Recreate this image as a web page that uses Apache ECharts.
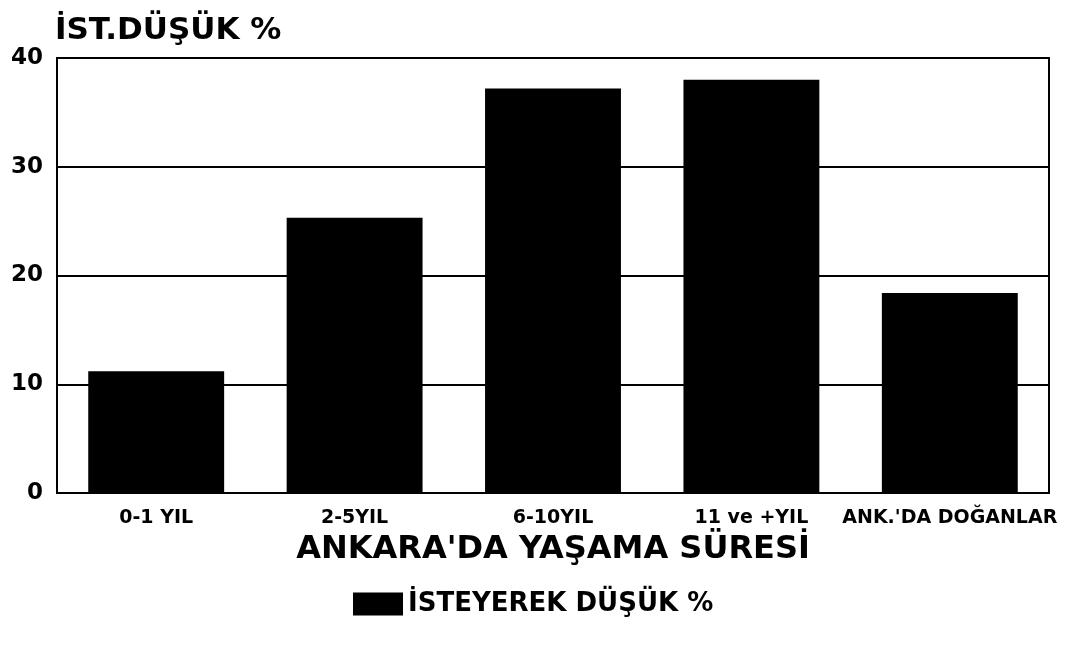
<!DOCTYPE html>
<html><head><meta charset="utf-8">
<script src="https://cdn.jsdelivr.net/npm/echarts@6/dist/echarts.min.js"></script>
<style>html,body{margin:0;padding:0;background:#fff;}#c{width:1081px;height:662px;}</style>
</head><body><div id="c"></div>
<script>
const categories = ["0-1 YIL", "2-5YIL", "6-10YIL", "11 ve +YIL", "ANK.'DA DOĞANLAR"];
const values = [11.2, 25.3, 37.2, 38.0, 18.4];
const yTicks = [0, 10, 20, 30, 40];
const seriesName = "İSTEYEREK DÜŞÜK %";
const yTitle = "İST.DÜŞÜK %";
const xTitle = "ANKARA'DA YAŞAMA SÜRESİ";

const font = "'DejaVu Sans', 'Liberation Sans', Arial, sans-serif";
const chart = echarts.init(document.getElementById('c'));
chart.setOption({
  backgroundColor: '#fff',
  animation: false,
  title: {
    text: yTitle, left: 50, top: 10,
    textStyle: {fontFamily: font, fontWeight: 'bold', fontSize: 31, color: '#000'}
  },
  legend: {
    data: [seriesName], top: 586, left: 348,
    icon: 'rect',
    itemWidth: 50, itemHeight: 23, itemGap: 8,
    textStyle: {fontFamily: font, fontWeight: 'bold', fontSize: 26, color: '#000'}
  },
  grid: {left: 57, right: 32, top: 58, bottom: 169, show: true, borderColor: '#000', borderWidth: 2},
  xAxis: {
    type: 'category', data: categories,
    name: xTitle, nameLocation: 'middle', nameGap: 41,
    nameTextStyle: {fontFamily: font, fontWeight: 'bold', fontSize: 32, color: '#000'},
    axisLine: {lineStyle: {color: '#000', width: 2}},
    axisTick: {show: false},
    axisLabel: {fontFamily: font, fontWeight: 'bold', fontSize: 19, color: '#000', margin: 16, interval: 0}
  },
  yAxis: {
    type: 'value', min: yTicks[0], max: yTicks[yTicks.length-1], interval: 10,
    axisLine: {show: true, lineStyle: {color: '#000', width: 2}},
    axisTick: {show: false},
    splitLine: {lineStyle: {color: '#000', width: 2}},
    axisLabel: {fontFamily: font, fontWeight: 'bold', fontSize: 23, color: '#000', margin: 14}
  },
  series: [{
    name: seriesName, type: 'bar', data: values,
    barWidth: '68.5%',
    itemStyle: {color: '#000'}
  }]
});
</script></body></html>
